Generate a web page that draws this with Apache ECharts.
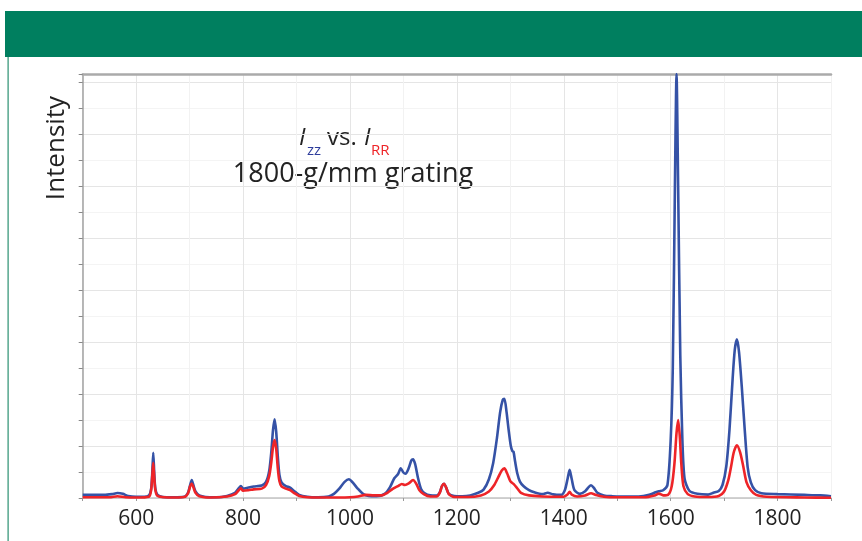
<!DOCTYPE html>
<html><head><meta charset="utf-8">
<script src="https://cdn.jsdelivr.net/npm/echarts@6/dist/echarts.min.js"></script>
<style>html,body{margin:0;padding:0;background:#fff}#c{width:862px;height:541px}</style>
</head><body><div id="c"></div>
<script>
// Raman shift (cm-1) and intensities
const izzX = [500,520,540,555,565,575,585,600,615,624,628,630,632,634,636,640,650,670,690,697,701,704,707,711,718,730,750,770,785,792,796,800,810,820,835,843,849,853,856,859,862,865,868,872,880,888,895,905,920,940,960,970,980,990,998,1005,1015,1025,1035,1050,1065,1075,1083,1090,1095,1100,1104,1110,1115,1118,1122,1127,1133,1140,1150,1162,1168,1172,1176,1180,1185,1195,1210,1225,1240,1250,1260,1268,1275,1281,1286,1289,1293,1297,1301,1304,1306,1309,1313,1318,1325,1335,1345,1360,1370,1380,1395,1402,1407,1411,1415,1420,1430,1440,1447,1451,1456,1463,1475,1490,1510,1540,1560,1572,1578,1586,1594,1600,1604,1608,1611,1614,1618,1622,1626,1635,1650,1670,1680,1690,1697,1704,1710,1716,1720,1724,1728,1733,1738,1744,1750,1758,1770,1800,1850,1880,1900];
const izzY = [0.12,0.12,0.12,0.15,0.19,0.16,0.08,0.05,0.05,0.1,0.35,0.9,1.74,0.9,0.35,0.12,0.04,0.03,0.05,0.2,0.5,0.69,0.5,0.25,0.1,0.04,0.03,0.08,0.2,0.38,0.46,0.36,0.4,0.44,0.48,0.62,1.05,1.8,2.6,3.03,2.55,1.6,0.9,0.6,0.46,0.4,0.28,0.12,0.05,0.03,0.06,0.16,0.36,0.62,0.72,0.6,0.35,0.15,0.08,0.07,0.16,0.42,0.76,0.92,1.14,0.98,0.93,1.15,1.45,1.49,1.3,0.8,0.35,0.18,0.1,0.09,0.22,0.45,0.55,0.4,0.16,0.08,0.07,0.1,0.2,0.32,0.72,1.35,2.3,3.3,3.78,3.81,3.3,2.6,2.0,1.8,1.78,1.4,0.95,0.63,0.45,0.3,0.22,0.15,0.2,0.14,0.12,0.3,0.72,1.08,0.72,0.3,0.16,0.26,0.43,0.49,0.4,0.2,0.1,0.07,0.06,0.06,0.12,0.22,0.26,0.3,0.5,2.2,5,12,16.3,12,5.5,2.2,0.75,0.28,0.16,0.13,0.2,0.27,0.5,1.2,2.6,4.6,5.7,6.1,5.6,4.3,2.8,1.2,0.6,0.3,0.18,0.15,0.12,0.1,0.07];
const irrX = [500,550,565,580,600,624,628,630,632,634,636,640,660,690,697,701,704,707,711,718,740,770,785,792,796,800,810,820,835,843,849,853,856,859,862,865,868,872,880,888,895,905,920,950,980,1000,1015,1030,1045,1060,1070,1080,1090,1097,1103,1110,1118,1124,1130,1138,1150,1162,1168,1172,1176,1180,1185,1195,1220,1245,1260,1270,1278,1284,1289,1294,1300,1306,1312,1320,1335,1360,1400,1407,1411,1415,1425,1440,1451,1460,1475,1500,1550,1570,1578,1586,1595,1602,1607,1611,1614,1617,1620,1624,1632,1645,1670,1690,1700,1708,1713,1718,1724,1730,1736,1742,1750,1760,1780,1850,1900];
const irrY = [0.03,0.03,0.07,0.03,0.02,0.05,0.3,0.8,1.35,0.75,0.3,0.08,0.02,0.04,0.18,0.45,0.56,0.42,0.2,0.07,0.02,0.06,0.15,0.3,0.37,0.28,0.3,0.33,0.36,0.5,0.85,1.4,1.95,2.23,1.9,1.15,0.65,0.45,0.36,0.3,0.2,0.08,0.03,0.02,0.02,0.03,0.06,0.12,0.1,0.1,0.2,0.35,0.46,0.54,0.5,0.56,0.69,0.55,0.3,0.15,0.06,0.06,0.2,0.45,0.55,0.4,0.15,0.04,0.04,0.1,0.25,0.5,0.82,1.06,1.14,0.95,0.65,0.54,0.4,0.2,0.1,0.06,0.05,0.13,0.24,0.13,0.06,0.1,0.18,0.12,0.05,0.03,0.03,0.1,0.17,0.1,0.12,0.45,1.3,2.5,3.0,2.4,1.3,0.45,0.15,0.06,0.04,0.08,0.25,0.7,1.2,1.75,2.03,1.75,1.2,0.6,0.3,0.12,0.05,0.02,0.01];
const xTickLabels = [600,800,1000,1200,1400,1600,1800];

const FONT = '"Open Sans", "Noto Sans", sans-serif';
const chart = echarts.init(document.getElementById('c'), null, {renderer:'canvas'});
const pairs = (xs, ys) => xs.map((x,i)=>[x, ys[i]]);

chart.setOption({
  animation:false,
  backgroundColor:'#fff',
  grid:{left:82.7, right:31, top:74, bottom:43, containLabel:false},
  xAxis:[{
    type:'value', min:500, max:1900, interval:100, position:'bottom',
    axisLine:{show:true, lineStyle:{color:'#c4c4c4', width:1.5}},
    axisTick:{show:true, length:3, lineStyle:{color:'#999'}},
    axisLabel:{margin:11, fontFamily:FONT, fontSize:21, color:'#222',
      formatter:v=> xTickLabels.indexOf(v)>=0 ? String(v) : ''},
    splitLine:{show:true, lineStyle:{color:['#f2f2f2','#e5e5e5'], width:1}}
  },{
    type:'value', min:500, max:1900, position:'top',
    axisLine:{show:true, onZero:false, lineStyle:{color:'#aaaaaa', width:2.5}},
    axisTick:{show:false}, axisLabel:{show:false}, splitLine:{show:false}
  }],
  yAxis:{
    type:'value', min:0, max:16.3, interval:2,
    axisLine:{show:true, lineStyle:{color:'#a0a0a0', width:1.5}},
    axisTick:{show:true, length:4, lineStyle:{color:'#888'}},
    minorTick:{show:true, splitNumber:2, length:4, lineStyle:{color:'#888'}},
    axisLabel:{show:false},
    splitLine:{show:true, lineStyle:{color:'#e5e5e5'}},
    minorSplitLine:{show:true, lineStyle:{color:'#f4f4f4'}}
  },
  series:[
    {name:'Izz', type:'line', data:pairs(izzX,izzY), showSymbol:false, smooth:0.25,
     lineStyle:{color:'#3552a6', width:2.6}, itemStyle:{color:'#3552a6'}, z:2},
    {name:'IRR', type:'line', data:pairs(irrX,irrY), showSymbol:false, smooth:0.25,
     lineStyle:{color:'#ee2428', width:2.6}, itemStyle:{color:'#ee2428'}, z:3}
  ],
  graphic:[
    {type:'rect', shape:{x:5, y:11, width:857, height:46}, style:{fill:'#007f5f'}, silent:true},
    {type:'rect', shape:{x:7.5, y:57, width:1.2, height:484}, style:{fill:'#2a9070'}, silent:true},
    {type:'text', x:57, y:148, rotation:Math.PI/2, style:{text:'Intensity', font:'26px '+FONT, fill:'#222', align:'center', verticalAlign:'middle'}},
    {type:'text', x:299, y:138, style:{text:'I', font:'italic 24px '+FONT, fill:'#222', align:'left', verticalAlign:'middle'}},
    {type:'text', x:307, y:151, style:{text:'zz', font:'15px '+FONT, fill:'#2e3d9c', align:'left', verticalAlign:'middle'}},
    {type:'text', x:327, y:138, style:{text:'vs.', font:'24px '+FONT, fill:'#222', align:'left', verticalAlign:'middle'}},
    {type:'text', x:364, y:138, style:{text:'I', font:'italic 24px '+FONT, fill:'#222', align:'left', verticalAlign:'middle'}},
    {type:'text', x:371, y:151, style:{text:'RR', font:'15px '+FONT, fill:'#ee2428', align:'left', verticalAlign:'middle'}},
    {type:'text', x:353, y:174, style:{text:'1800-g/mm grating', font:'27px '+FONT, fill:'#222', align:'center', verticalAlign:'middle'}}
  ]
});
</script></body></html>
